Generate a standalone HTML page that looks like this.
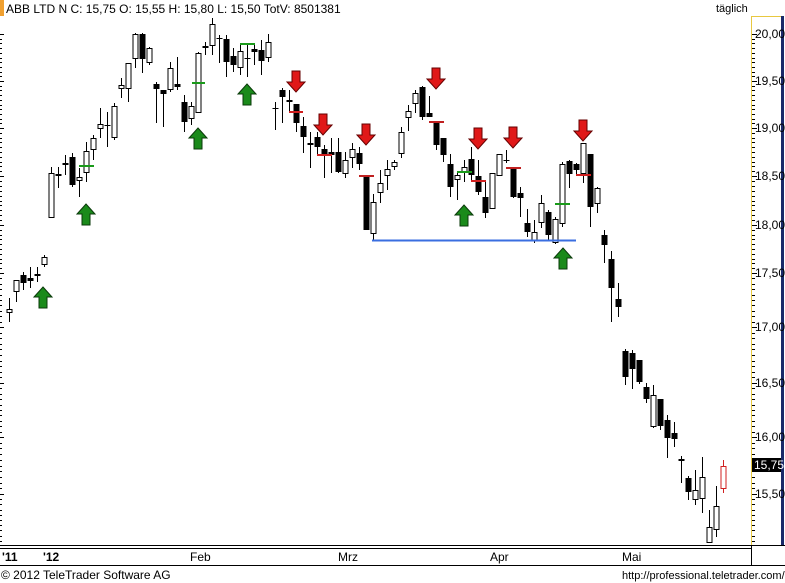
<!DOCTYPE html>
<html><head><meta charset="utf-8"><style>
body{margin:0;background:#fff;width:785px;height:583px;overflow:hidden;font-family:"Liberation Sans",sans-serif}
svg{display:block}
</style></head><body>
<svg id="s" width="785" height="583" xmlns="http://www.w3.org/2000/svg" font-family="Liberation Sans, sans-serif">
<rect x="0" y="0" width="785" height="583" fill="#fff"/>
<rect x="0" y="0" width="4" height="16" fill="#f0a030"/>
<text x="6" y="13" font-size="12" fill="#000">ABB LTD N C: 15,75 O: 15,55 H: 15,80 L: 15,50 TotV: 8501381</text>
<text x="716" y="12" font-size="11" fill="#000">täglich</text>
<line x1="751.5" y1="16" x2="751.5" y2="546" stroke="#e8c840" stroke-width="1"/>
<line x1="751" y1="16.5" x2="783" y2="16.5" stroke="#e8c840"/>
<rect x="781" y="16" width="3" height="530" fill="#1a2a6a"/>
<line x1="0" y1="545.5" x2="785" y2="545.5" stroke="#000"/>
<line x1="0" y1="548.5" x2="751" y2="548.5" stroke="#000"/>
<line x1="751.5" y1="546" x2="751.5" y2="565" stroke="#000"/>
<line x1="0" y1="565.5" x2="785" y2="565.5" stroke="#000"/>
<g id="g"></g>
<g font-size="12" fill="#000">
<text x="755" y="38">20,00</text><text x="755" y="85">19,50</text><text x="755" y="132">19,00</text>
<text x="755" y="180">18,50</text><text x="755" y="229">18,00</text><text x="755" y="277">17,50</text>
<text x="755" y="331">17,00</text><text x="755" y="387">16,50</text><text x="755" y="441">16,00</text>
<text x="755" y="498">15,50</text>
</g>
<rect x="752" y="458" width="29" height="14" fill="#000"/>
<text x="754" y="469" font-size="12" fill="#fff">15,75</text>
<g font-size="12" fill="#000">
<text x="2" y="561" font-weight="bold">'11</text><text x="43" y="561" font-weight="bold">'12</text>
<text x="190" y="561">Feb</text><text x="338" y="561">Mrz</text><text x="490" y="561">Apr</text><text x="622" y="561">Mai</text>
</g>
<text x="1" y="579" font-size="12" fill="#000">© 2012 TeleTrader Software AG</text>
<text x="622" y="579" font-size="11" fill="#000">http://professional.teletrader.com/</text>
</svg>
<script>
var g=document.getElementById('g'),h='';
function L(a,b,c,d,col,w){h+='<line x1="'+a+'" y1="'+b+'" x2="'+c+'" y2="'+d+'" stroke="'+col+'" stroke-width="'+(w||1)+'"/>';}
// axis ticks
var lab=[34,81,128,176,225,273,327,383,437,494,546];
for(var i=0;i<lab.length-1;i++){for(var k=0;k<10;k++){var y=Math.round(lab[i]+(lab[i+1]-lab[i])*k/10)+.5;L(752,y,k==0?757:755,y,'#000');L(0,y,k==0?4:2,y,'#000');}}
for(var y=20;y>=16;y-=4.8){}
var c=[[9,298,322,309,312,0],[16,280,302,280,291,0],[23,272,290,275,283,1],[30,267,288,278,281,1],[37,267,282,274,276,1],[44,255,267,257,264,0],
[51,167,218,173,217,0],[58,167,188,174,176,1],[65,155,175,163,165,1],[72,153,187,157,185,1],[79,168,197,177,180,0],[86,142,182,151,172,0],[93,135,160,138,149,0],[100,108,138,124,128,0],[107,112,147,125,126,1],[114,103,140,106,137,0],[121,78,98,85,88,0],[128,63,102,63,88,0],[135,33,68,34,58,0],[142,33,73,34,59,1],[149,47,65,48,62,0],
[156,82,123,84,89,1],[163,90,127,90,94,1],[170,62,92,68,89,0],[177,57,90,84,87,1],[184,95,132,102,122,1],[191,102,125,106,118,0],[198,52,113,53,112,0],[205,42,55,46,48,1],[212,18,55,24,45,0],[219,35,63,38,39,1],[226,35,77,39,62,1],[233,48,72,56,65,1],[240,45,75,51,67,0],[247,44,77,58,59,1],[254,45,65,49,52,1],[261,40,75,50,61,1],[268,34,62,42,57,0],
[275,102,130,108,109,1],[282,88,123,90,97,1],[289,90,112,100,102,1],[296,104,132,104,123,1],[303,117,153,126,137,1],[310,132,168,143,145,1],[317,132,155,137,147,1],[324,145,178,149,155,1],[331,138,173,152,155,1],[338,138,173,152,172,1],[345,152,178,160,173,0],[352,143,168,149,157,0],[359,147,170,153,164,1],[366,176,230,176,230,1],[373,194,240,202,233,0],[380,170,203,183,192,0],[387,160,190,169,175,0],[394,160,170,162,166,0],[401,127,158,132,153,0],[408,105,131,111,117,0],[415,90,113,93,103,0],[422,86,120,87,117,1],[429,96,117,113,117,1],[436,122,150,122,145,1],[443,138,162,138,155,1],[450,154,197,164,187,1],[457,172,200,175,179,0],[464,160,182,167,172,0],[471,147,180,159,175,1],[478,160,195,176,192,1],[485,182,218,197,213,1],[492,173,208,173,208,0],[499,154,176,154,175,0],[506,150,163,160,161,1],[513,167,198,167,197,1],[520,187,217,193,198,1],[527,209,237,223,232,1],[534,220,243,232,240,0],[541,195,228,203,222,0],[548,210,240,212,235,1],[555,217,244,219,242,0],[562,162,227,164,223,0],[569,160,188,161,174,1],[576,163,175,164,170,1],[583,143,183,143,173,0],[590,154,227,154,207,1],[597,187,213,188,203,0],[604,230,263,235,245,1],[611,251,322,259,288,1],[618,283,317,299,307,1],
[625,349,385,351,377,1],[632,350,389,353,369,1],[639,360,384,360,382,1],[646,383,403,387,399,1],[653,385,428,395,426,0],[660,399,430,399,426,1],[667,415,458,420,438,1],[674,422,447,433,439,1],[681,456,483,459,461,1],[688,476,500,478,492,1],[695,470,505,490,499,0],[702,457,513,477,498,0],[709,510,542,527,542,0],[716,486,537,506,529,0],[723,460,493,466,488,2]];
c.forEach(function(d){var col=d[5]==2?'#d02020':'#000';L(d[0]+.5,d[1],d[0]+.5,d[2],col);var bh=Math.max(1,d[4]-d[3]);
if(d[5]==1)h+='<rect x="'+(d[0]-2.5)+'" y="'+d[3]+'" width="6" height="'+bh+'" fill="#000"/>';
else h+='<rect x="'+(d[0]-2)+'" y="'+(d[3]+.5)+'" width="5" height="'+bh+'" fill="#fff" stroke="'+col+'"/>';});
// markers
[[79,94,166,'#1a9a1a'],[192,205,83,'#1a9a1a'],[240,255,44,'#1a9a1a'],[457,472,172,'#1a9a1a'],[555,570,204,'#1a9a1a'],
 [289,303,112,'#d02020'],[317,332,155,'#d02020'],[359,374,176,'#c02020'],[429,444,122,'#c02020'],[471,486,181,'#d02020'],[506,521,168,'#c02020'],[576,591,175,'#d02020']].forEach(function(m){L(m[0],m[2],m[1],m[2],m[3],2);});
L(372,240.5,576,240.5,'#3a6ee0',2);
function up(x,y){h+='<polygon points="'+[x,y,x+9,y+10,x+4,y+10,x+4,y+21,x-4,y+21,x-4,y+10,x-9,y+10].join(',')+'" fill="#1a8a1a" stroke="#0a3a0a"/>';}
function dn(x,y){h+='<polygon points="'+[x-4,y,x+4,y,x+4,y+11,x+9,y+11,x,y+21,x-9,y+11,x-4,y+11].join(',')+'" fill="#e01818" stroke="#600"/>';}
[[43,287],[86,204],[198,128],[247,84],[464,205],[563,248]].forEach(function(a){up(a[0],a[1]);});
[[296,71],[323,114],[366,124],[436,68],[478,128],[513,127],[583,120]].forEach(function(a){dn(a[0],a[1]);});
g.innerHTML=h;
</script>
</body></html>
